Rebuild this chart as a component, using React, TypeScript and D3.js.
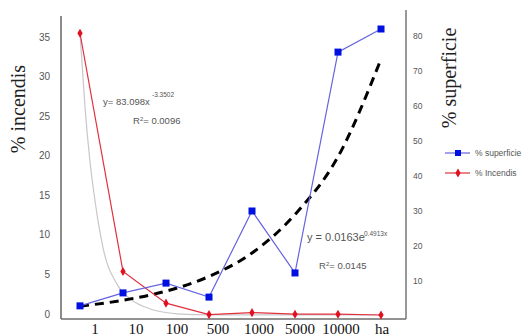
import React from 'react';
import * as d3 from 'd3';

// x categories (fire size classes)
const categories = ['1', '10', '100', '500', '1000', '5000', '10000', 'ha'];
// % incendis (left axis)
const incendis = [35.6, 5.5, 1.5, 0.05, 0.3, 0.1, 0.1, 0.0];
// % superficie (right axis)
const superficie = [2.9, 6.6, 9.4, 5.4, 30, 12.3, 75.4, 82];
// exponential trend of % superficie, read at each category
const expTrend = [2.8, 4.5, 7.1, 11.3, 18, 29, 45.5, 73.4];
// power trend of % incendis: [position, value]
const powTrend: [number, number][] = [
  [0, 35.6], [0.12, 26], [0.23, 19.5], [0.36, 14], [0.535, 8.5], [0.86, 3.9],
  [1.2, 1.9], [1.465, 1.1], [2.26, 0.15], [3, 0.02], [7, 0],
];
const leftTicks = [0, 5, 10, 15, 20, 25, 30, 35];
const rightTicks = [10, 20, 30, 40, 50, 60, 70, 80];

const W = 532;
const H = 336;
const serif = "'Liberation Serif', 'DejaVu Serif', serif";
const sans = "'Liberation Sans', Arial, sans-serif";

const App = () => {
  const x = d3.scaleLinear().domain([0, categories.length - 1]).range([80, 381]);
  const xLab = d3.scalePoint().domain(categories).range([95, 382]);
  const yL = d3.scaleLinear().domain([0, 35]).range([315, 38]);
  const yR = d3.scaleLinear().domain([0, 80]).range([316, 36]);

  const redLine = d3.line<number>().x((_, i) => x(i)).y((d) => yL(d));
  const blueLine = d3.line<number>().x((_, i) => x(i)).y((d) => yR(d));
  const dashLine = d3.line<number>().x((_, i) => x(i)).y((d) => yR(d)).curve(d3.curveMonotoneX);
  const greyLine = d3.line<[number, number]>().x((d) => x(d[0])).y((d) => yL(d[1])).curve(d3.curveMonotoneX);

  const diamond = d3.symbol().type(d3.symbolDiamond).size(24)() as string;

  const axisCol = '#6e6e6e';
  const tickCol = '#555';

  return (
    <svg width={W} height={H} style={{ position: 'absolute', left: 0, top: 0, background: '#fff' }}>
      {/* axes */}
      <line x1={61} x2={61} y1={16} y2={319} stroke={axisCol} strokeWidth={1.6} />
      <line x1={61} x2={406} y1={319} y2={319} stroke={axisCol} strokeWidth={1.6} />
      <line x1={406} x2={406} y1={10} y2={319} stroke={axisCol} strokeWidth={1.4} />

      {leftTicks.map((t) => (
        <text key={t} x={50} y={yL(t) - 1} dy="0.35em" textAnchor="end" fontFamily={sans} fontSize={10} fill={tickCol}>
          {t}
        </text>
      ))}
      {rightTicks.map((t) => (
        <text key={t} x={413} y={yR(t)} dy="0.35em" fontFamily={sans} fontSize={8.5} fill={tickCol}>
          {t}
        </text>
      ))}
      {categories.map((c) => (
        <text key={c} x={xLab(c)} y={334} textAnchor="middle" fontFamily={serif} fontSize={15} fill="#111">
          {c}
        </text>
      ))}

      {/* axis titles */}
      <text transform="translate(25,109) rotate(-90)" textAnchor="middle" fontFamily={serif} fontSize={20} fill="#222">
        % incendis
      </text>
      <text transform="translate(456,78) rotate(-90)" textAnchor="middle" fontFamily={serif} fontSize={20} fill="#222">
        % superficie
      </text>

      {/* trend lines */}
      <path d={greyLine(powTrend) ?? ''} fill="none" stroke="#c8c8cc" strokeWidth={1.2} />
      <path d={dashLine(expTrend) ?? ''} fill="none" stroke="#000" strokeWidth={3} strokeDasharray="9,6" />

      {/* series */}
      <path d={redLine(incendis) ?? ''} fill="none" stroke="#e0303c" strokeWidth={1.2} />
      {incendis.map((d, i) => (
        <path key={i} d={diamond} transform={`translate(${x(i)},${yL(d)})`} fill="#e01020" />
      ))}
      <path d={blueLine(superficie) ?? ''} fill="none" stroke="#6464e0" strokeWidth={1.2} />
      {superficie.map((d, i) => (
        <rect key={i} x={x(i) - 3.5} y={yR(d) - 3.5} width={7} height={7} fill="#0010e0" />
      ))}

      {/* trend equations */}
      <g fontFamily={sans} fill="#555">
        <text x={103} y={105} fontSize={9.5}>y= 83.098x</text>
        <text x={152} y={97} fontSize={6.5}>-3.3502</text>
        <text x={133} y={124} fontSize={9.5}>
          R<tspan fontSize={6} dy={-3}>2</tspan><tspan dy={3}>= 0.0096</tspan>
        </text>
        <text x={307} y={241} fontSize={11}>y = 0.0163e</text>
        <text x={364} y={236} fontSize={6.5}>0.4913x</text>
        <text x={319} y={269} fontSize={9.5}>
          R<tspan fontSize={6} dy={-3}>2</tspan><tspan dy={3}>= 0.0145</tspan>
        </text>
      </g>

      {/* legend */}
      <line x1={445} x2={470} y1={153} y2={153} stroke="#6464e0" strokeWidth={1.2} />
      <rect x={455} y={150} width={6} height={6} fill="#0010e0" />
      <text x={475} y={153} dy="0.35em" fontFamily={sans} fontSize={8.5} fill="#555">% superficie</text>
      <line x1={445} x2={470} y1={173} y2={173} stroke="#e0303c" strokeWidth={1.2} />
      <path d={diamond} transform="translate(458,173)" fill="#e01020" />
      <text x={475} y={173} dy="0.35em" fontFamily={sans} fontSize={8.5} fill="#555">% Incendis</text>
    </svg>
  );
};

export default App;
